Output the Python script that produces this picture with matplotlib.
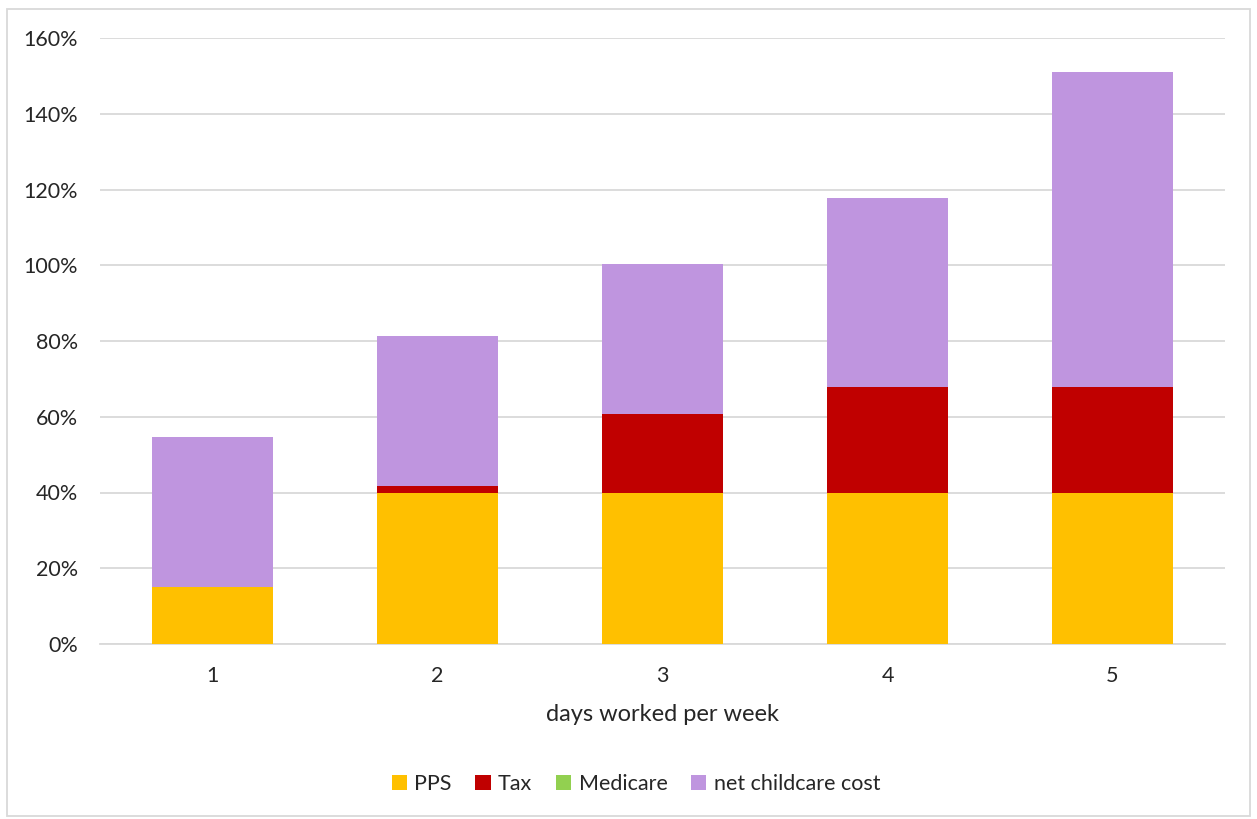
import matplotlib.pyplot as plt
import numpy as np
from matplotlib.patches import Rectangle
from matplotlib.ticker import PercentFormatter

plt.rcParams['font.family'] = ['Lato', 'DejaVu Sans']

# Datos (porcentajes)
dias = ['1', '2', '3', '4', '5']
pps = [15.0, 40.0, 40.0, 40.0, 40.0]
tax = [0.0, 1.7, 20.7, 27.9, 27.9]
medicare = [0.0, 0.0, 0.0, 0.0, 0.0]
childcare = [39.7, 39.6, 39.6, 49.9, 83.2]

colores = ['#ffc000', '#c00000', '#92d050', '#bf95df']
nombres = ['PPS', 'Tax', 'Medicare', 'net childcare cost']

fig = plt.figure(figsize=(12.57, 8.19), dpi=100)
ax = fig.add_axes([100/1257, 1-644/819, 1125/1257, 606/819])

x = np.arange(1, len(dias) + 1)
abajo = np.zeros(len(dias))
for serie, color, nombre in zip([pps, tax, medicare, childcare], colores, nombres):
    ax.bar(x, serie, width=0.54, bottom=abajo, color=color, label=nombre, zorder=3)
    abajo = abajo + np.array(serie)

ax.set_xlim(0.5, 5.5)
ax.set_ylim(0, 160)
ax.set_yticks(np.arange(0, 161, 20))
ax.yaxis.set_major_formatter(PercentFormatter(decimals=0))
ax.set_xticks(x)
ax.set_xticklabels(dias)
ax.grid(axis='y', color='#d9d9d9', linewidth=1.3, zorder=0)
for s in ['top', 'right', 'left']:
    ax.spines[s].set_visible(False)
ax.spines['bottom'].set_color('#d9d9d9')
ax.spines['bottom'].set_linewidth(1.3)
ax.tick_params(length=0, labelsize=15.5, colors='#262626')
ax.tick_params(axis='y', pad=16)
ax.tick_params(axis='x', pad=16)
ax.set_xlabel('days worked per week', fontsize=17, color='#262626', labelpad=13)

ax.legend(loc='center', bbox_to_anchor=(636/1257, 1-784/819), bbox_transform=fig.transFigure,
          ncol=4, frameon=False, fontsize=15.5, handlelength=0.7, handleheight=0.7,
          handletextpad=0.35, columnspacing=1.1, labelcolor='#262626')

# Borde del grafico
fig.patches.append(Rectangle((7/1257, 0.004), 1-14/1257, 1-9/819-0.004, transform=fig.transFigure,
                             fill=False, edgecolor='#d9d9d9', linewidth=1.3))

plt.savefig('out.png', dpi=100)
